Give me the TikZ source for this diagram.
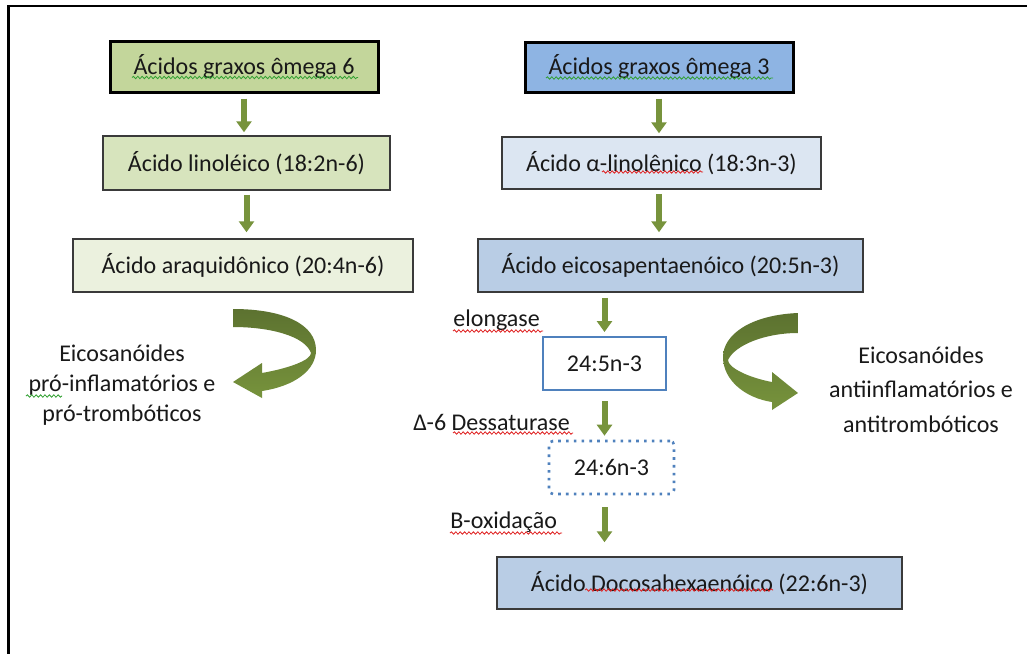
\documentclass[tikz,border=0pt]{standalone}
\usepackage{fontspec}
\setmainfont{Carlito}
\usetikzlibrary{arrows.meta,decorations.pathmorphing}
\definecolor{arrowgreen}{HTML}{77933C}
\definecolor{darkgreen}{HTML}{5C7230}
\definecolor{gA}{HTML}{C3D69B}
\definecolor{gB}{HTML}{D7E4BD}
\definecolor{gC}{HTML}{EBF1DE}
\definecolor{bA}{HTML}{8EB4E3}
\definecolor{bB}{HTML}{DCE6F2}
\definecolor{bC}{HTML}{B9CDE5}
\definecolor{accent}{HTML}{4F81BD}
\definecolor{boxline}{HTML}{3A3A3A}
\definecolor{squigred}{HTML}{E02020}
\definecolor{squiggreen}{HTML}{30A030}
\begin{document}
\begin{tikzpicture}[x=0.5pt,y=-0.5pt,
  every node/.style={font=\fontsize{12pt}{15pt}\selectfont, inner sep=0pt, text=black!90},
  box/.style={draw=boxline, line width=0.75pt},
  headbox/.style={draw=black, line width=1.5pt},
  flow/.style={draw=arrowgreen, line width=3pt, -{Triangle[width=7.5pt,length=5.5pt]}},
  squig/.style={draw=#1, line width=0.4pt, decorate, decoration={snake, segment length=2.2pt, amplitude=0.6pt}},
  curvearrow/.style={top color=darkgreen, bottom color=arrowgreen, draw=none}
]
\useasboundingbox (0,0) rectangle (1027,653);
\clip (0,0) rectangle (1027,653);
\fill[white] (0,0) rectangle (1027,653);
\draw[line width=1.25pt] (8.5,6) rectangle (1070,700);

% left column
\node[headbox, fill=gA, minimum width=134pt, minimum height=25.5pt] (o6) at (244,66.5) {Ácidos graxos ômega 6};
\node[box, fill=gB, minimum width=143.5pt, minimum height=27pt] (lin) at (246.5,163) {Ácido linoléico (18:2n-6)};
\node[box, fill=gC, minimum width=170pt, minimum height=26.5pt] (ara) at (243,265.5) {Ácido araquidônico (20:4n-6)};

% right column
\node[headbox, fill=bA, minimum width=134pt, minimum height=25pt] (o3) at (659,67) {Ácidos graxos ômega 3};
\node[box, fill=bB, minimum width=159.5pt, minimum height=26pt] (ala) at (661.5,163) {Ácido α-linolênico (18:3n-3)};
\node[box, fill=bC, minimum width=192.5pt, minimum height=26.5pt] (epa) at (670.5,265.5) {Ácido eicosapentaenóico (20:5n-3)};
\node[draw=accent, line width=1pt, fill=white, minimum width=61.5pt, minimum height=26.5pt] (c245) at (604.5,363.5) {24:5n-3};
\node[draw=accent, line width=1.3pt, dash pattern=on 1.3pt off 2.6pt, rounded corners=2pt, fill=white, minimum width=62.5pt, minimum height=26.5pt] (c246) at (611.5,467.5) {24:6n-3};
\node[box, fill=bC, minimum width=202.5pt, minimum height=26pt] (dha) at (699.5,583) {Ácido Docosahexaenóico (22:6n-3)};

% step labels
\node[anchor=base west] (lelong) at (453,326) {elongase};
\node[anchor=base west] (ldes) at (413,430) {Δ-6 Dessaturase};
\node[anchor=base west] (lbox) at (450,528) {B-oxidação};

% side texts
\node[align=center] (eleft) at (122,385) {Eicosanóides\\pró-inflamatórios e\\pró-trombóticos};
\node[align=center, font=\fontsize{12pt}{17.25pt}\selectfont] (eright) at (921,389.5) {Eicosanóides\\antiinflamatórios e\\antitrombóticos};

% straight arrows
\draw[flow, shorten <=2.5pt, shorten >=1.5pt] (o6.south) -- (o6.south |- lin.north);
\draw[flow, shorten <=2pt, shorten >=3pt] (lin.south) -- (lin.south |- ara.north);
\draw[flow, shorten <=2.5pt, shorten >=1.5pt] (o3.south) -- (o3.south |- ala.north);
\draw[flow, shorten <=2pt, shorten >=3pt] (ala.south -| o3.south) -- (o3.south |- epa.north);
\draw[flow, shorten <=2.5pt, shorten >=2pt] (epa.south -| c245.north) -- (c245.north);
\draw[flow, shorten <=5pt, shorten >=2pt] (c245.south) -- (c245.south |- c246.north);
\draw[flow, shorten <=6pt, shorten >=7pt] (c246.south -| c245.south) -- (c245.south |- dha.north);

% curved arrows
\shade[curvearrow] (233,309) .. controls (285,309) and (316,325) .. (316,350)
  .. controls (316,370) and (295,386) .. (262,391) -- (262,398) -- (233,382) -- (262,363) -- (262,373)
  .. controls (290,368) and (311,360) .. (311,353) .. controls (305,336) and (270,327) .. (233,327) -- cycle;
\shade[curvearrow] (798,313) .. controls (750,315) and (723,335) .. (723,357)
  .. controls (723,380) and (745,398) .. (772,402) -- (772,410) -- (798,393) -- (772,372) -- (772,382)
  .. controls (750,378) and (728,368) .. (728,360) .. controls (735,345) and (765,333) .. (798,333) -- cycle;

% spell-check underlines
\draw[squig=squiggreen] (132,77.5) -- (358,77.5);
\draw[squig=squiggreen] (546,78) -- (773,78);
\draw[squig=squigred] (602,172) -- (703,172);
\draw[squig=squiggreen] (26,396) -- (62,396);
\draw[squig=squigred] (453,331) -- (543,331);
\draw[squig=squigred] (453,433) -- (573,433);
\draw[squig=squigred] (450,533) -- (562,533);
\draw[squig=squigred] (585,590) -- (773,590);
\end{tikzpicture}
\end{document}
